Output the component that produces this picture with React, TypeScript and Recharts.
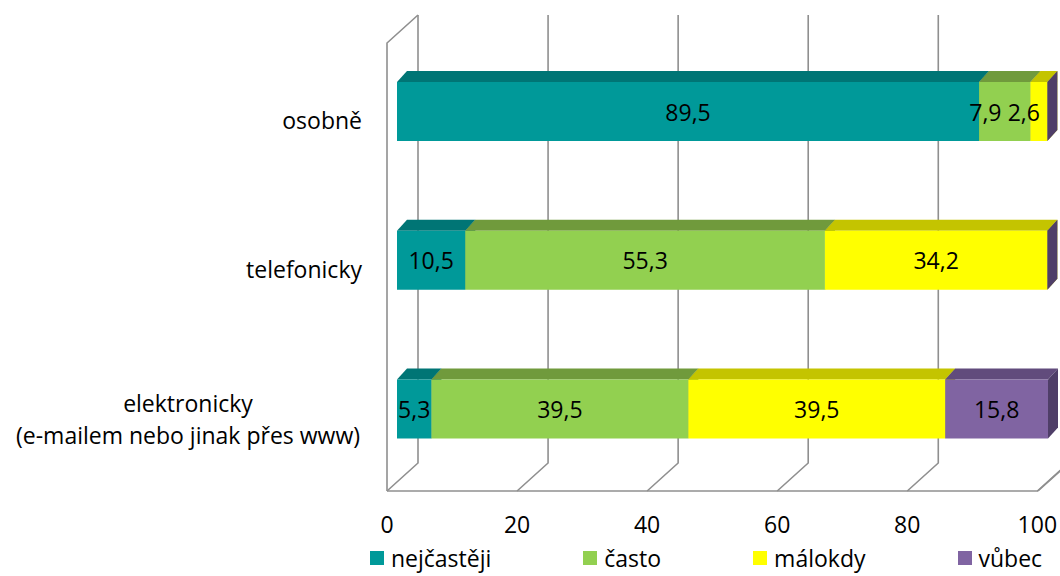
import React from 'react';
import { BarChart, Bar, XAxis, YAxis, CartesianGrid, LabelList } from 'recharts';

// categories (top to bottom) and series values in %
const categories = ['osobně', 'telefonicky', 'elektronicky\n(e-mailem nebo jinak přes www)'];
const nejcasteji = [89.5, 10.5, 5.3];
const casto = [7.9, 55.3, 39.5];
const malokdy = [2.6, 34.2, 39.5];
const vubec = [0, 0, 15.8];
const xTicks = [0, 20, 40, 60, 80, 100];
const seriesKeys = ['nejcasteji', 'casto', 'malokdy', 'vubec'];
const seriesNames = ['nejčastěji', 'často', 'málokdy', 'vůbec'];

const chartData = categories.map((name, i) => ({
    name,
    nejcasteji: nejcasteji[i],
    casto: casto[i],
    malokdy: malokdy[i],
    vubec: vubec[i],
}));

// front / top / side colours of the 3d blocks
const palette = [
    { front: '#009999', top: '#007575', side: '#006666' },
    { front: '#92D050', top: '#709A3C', side: '#5F8532' },
    { front: '#FFFF00', top: '#C4C400', side: '#AEAE00' },
    { front: '#8064A2', top: '#614B7C', side: '#4F3E68' },
];

const FONT = '"Open Sans", sans-serif';
const PLOT_LEFT = 397;
const PLOT_RIGHT = 1048;
const DX = 10;
const DY = 11;
const WALL_TOP = 15;
const FLOOR_BACK = 463;
const FLOOR_FRONT = 491;
const GRID = '#8f8f8f';

const fmt = (v: number) => v.toFixed(1).replace('.', ',');
const textW = (s: string) => s.split('').reduce((a, ch) => a + (ch === ',' ? 6 : 13.2), 0);

const make3D = (c: { front: string; top: string; side: string }) => (props: any) => {
    const { x, y, height } = props;
    const w = Math.max(props.width || 0, 0);
    if (height == null || isNaN(x)) return <g />;
    return (
        <g>
            <polygon
                points={`${x},${y} ${x + DX},${y - DY} ${x + w + DX},${y - DY} ${x + w},${y}`}
                fill={c.top}
            />
            <polygon
                points={`${x + w},${y} ${x + w + DX},${y - DY} ${x + w + DX},${y + height - DY} ${x + w},${y + height}`}
                fill={c.side}
            />
            {w > 0 && <rect x={x} y={y} width={w} height={height} fill={c.front} />}
        </g>
    );
};

const renderGridLine = (props: any) => {
    const x = props.x1;
    const isFirst = Math.abs(x - PLOT_LEFT) < 1;
    return (
        <g key={`grid-${props.index ?? x}`}>
            <polyline
                points={`${x + 21},${WALL_TOP} ${x + 21},${FLOOR_BACK} ${x - 10},${FLOOR_FRONT}`}
                fill="none"
                stroke={GRID}
                strokeWidth={1.6}
            />
            {isFirst && (
                <>
                    <polyline
                        points={`${x + 21},${WALL_TOP} ${x - 10},${WALL_TOP + 28} ${x - 10},${FLOOR_FRONT}`}
                        fill="none"
                        stroke={GRID}
                        strokeWidth={1.6}
                    />
                    <line
                        x1={x - 10}
                        y1={FLOOR_FRONT}
                        x2={PLOT_RIGHT - 10}
                        y2={FLOOR_FRONT}
                        stroke={GRID}
                        strokeWidth={1.6}
                    />
                </>
            )}
        </g>
    );
};

const renderXTick = (props: any) => {
    const { x, y, payload } = props;
    return (
        <text x={x - 10} y={y + 50} textAnchor="middle" fontSize={23} fontFamily={FONT} fill="#000">
            {payload.value}
        </text>
    );
};

const renderYTick = (props: any) => {
    const { x, y, payload } = props;
    const lines = String(payload.value).split('\n');
    if (lines.length === 1) {
        return (
            <text x={x - 35} y={y + 18} textAnchor="end" fontSize={23} fontFamily={FONT} fill="#000">
                {lines[0]}
            </text>
        );
    }
    return (
        <text x={x - 209} y={y + 3} textAnchor="middle" fontSize={23} fontFamily={FONT} fill="#000">
            {lines.map((l, i) => (
                <tspan key={i} x={x - 209} dy={i === 0 ? 0 : 32}>
                    {l}
                </tspan>
            ))}
        </text>
    );
};

// label centred on its block, pushed left when it would collide with the
// next label in the row or run past the end of the bar
const makeLabel = (seriesIndex: number) => (props: any) => {
    const { x, y, width, height, value, index } = props;
    if (!value) return null;
    const row = chartData[index] as any;
    const vals = seriesKeys.map((k) => row[k] as number);
    const k = width / value;
    const before = vals.slice(0, seriesIndex).reduce((a, b) => a + b, 0);
    const x0 = x - k * before;
    const centers: number[] = [];
    const widths: number[] = [];
    let acc = 0;
    vals.forEach((v) => {
        centers.push(x0 + k * (acc + v / 2));
        widths.push(textW(fmt(v)));
        acc += v;
    });
    let limit = PLOT_RIGHT - 8;
    for (let i = vals.length - 1; i >= seriesIndex; i--) {
        if (!vals[i]) continue;
        const right = Math.min(centers[i] + widths[i] / 2, limit);
        centers[i] = right - widths[i] / 2;
        limit = centers[i] - widths[i] / 2 - 6;
    }
    return (
        <text
            x={centers[seriesIndex]}
            y={y + height / 2}
            textAnchor="middle"
            dominantBaseline="central"
            fontSize={23}
            fontFamily={FONT}
            fill="#000"
        >
            {fmt(value)}
        </text>
    );
};

const App = () => {
    return (
        <div style={{ position: 'absolute', left: 0, top: 0, width: 1060, height: 576, fontFamily: FONT }}>
            <BarChart
                width={1060}
                height={576}
                data={chartData}
                layout="vertical"
                margin={{ top: 37, right: 12, bottom: 0, left: 0 }}
                barSize={59}
            >
                <CartesianGrid horizontal={false} vertical={renderGridLine} />
                <XAxis
                    type="number"
                    domain={[0, 100]}
                    ticks={xTicks}
                    interval={0}
                    height={92.75}
                    axisLine={false}
                    tickLine={false}
                    tickSize={0}
                    tickMargin={0}
                    tick={renderXTick}
                />
                <YAxis
                    type="category"
                    dataKey="name"
                    width={397}
                    interval={0}
                    axisLine={false}
                    tickLine={false}
                    tickSize={0}
                    tickMargin={0}
                    tick={renderYTick}
                />
                {seriesKeys.map((key, i) => (
                    <Bar
                        key={key}
                        dataKey={key}
                        name={seriesNames[i]}
                        stackId="a"
                        shape={make3D(palette[i])}
                        isAnimationActive={false}
                    >
                        <LabelList dataKey={key} content={makeLabel(i)} />
                    </Bar>
                ))}
            </BarChart>
            <div
                style={{
                    position: 'absolute',
                    left: 370,
                    top: 545,
                    display: 'flex',
                    gap: 92,
                    fontSize: 23,
                    lineHeight: '26px',
                    whiteSpace: 'nowrap',
                }}
            >
                {seriesNames.map((n, i) => (
                    <div key={n} style={{ display: 'flex', alignItems: 'center' }}>
                        <span
                            style={{
                                display: 'inline-block',
                                width: 14,
                                height: 14,
                                background: palette[i].front,
                                marginRight: 7,
                            }}
                        />
                        <span>{n}</span>
                    </div>
                ))}
            </div>
        </div>
    );
};

export default App;
